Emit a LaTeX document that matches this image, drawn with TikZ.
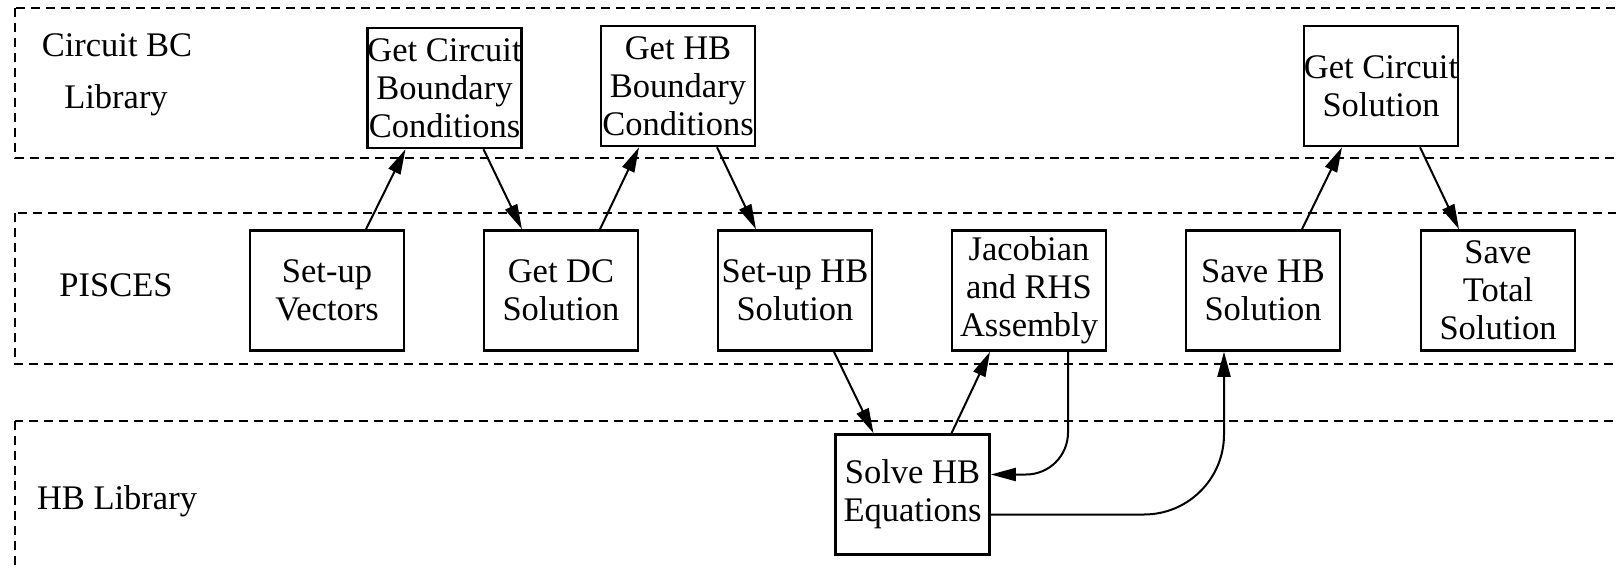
\documentclass[tikz,border=0pt]{standalone}
\usepackage{fontspec}
\setmainfont{Liberation Serif}
\usetikzlibrary{arrows.meta}
\begin{document}
\begin{tikzpicture}[x=1pt,y=-1pt,
  box/.style={draw, line width=2.5pt, minimum width=154pt, minimum height=120pt, inner sep=0pt, align=center, font=\fontsize{34.5}{38}\selectfont},
  lbl/.style={font=\fontsize{34.5}{38}\selectfont, inner sep=0pt, anchor=base},
  band/.style={draw, dash pattern=on 9pt off 6pt, line width=2pt},
  arr/.style={line width=2pt, -{Triangle[length=25pt,width=13pt]}}]
\useasboundingbox (0,0) rectangle (1616,570);
\begin{scope}
\clip (0,0) rectangle (1616,570);
\draw[band] (15,8) rectangle (1640,158);
\draw[band] (15,213) rectangle (1640,364);
\draw[band] (15,421) rectangle (1640,600);
\end{scope}
% band labels
\node[lbl] (l1) at (117,56) {Circuit BC};
\node[lbl] (l2) at (116,108) {Library};
\node[lbl] (l3) at (116,296) {PISCES};
\node[lbl] (l4) at (117,509) {HB Library};
% top row
\node[box] (gcbc) at (444.5,88) {Get Circuit\\Boundary\\Conditions};
\node[box] (ghb) at (678,86) {Get HB\\Boundary\\Conditions};
\node[box] (gcs) at (1381,86) {Get Circuit\\Solution};
% middle row
\node[box] (suv) at (327,290.5) {Set-up\\Vectors};
\node[box] (gdc) at (561,290.5) {Get DC\\Solution};
\node[box] (suhb) at (795,290.5) {Set-up HB\\Solution};
\node[box] (jac) at (1029,290.5) {Jacobian\\and RHS\\Assembly};
\node[box] (shb) at (1263,290.5) {Save HB\\Solution};
\node[box] (sts) at (1498,290.5) {Save\\Total\\Solution};
% bottom
\node[box] (shbe) at (912.5,494.5) {Solve HB\\Equations};
% connectors
\draw[arr] ([xshift=39pt]suv.north) -- ([xshift=-39pt]gcbc.south);
\draw[arr] ([xshift=39pt]gcbc.south) -- ([xshift=-39pt]gdc.north);
\draw[arr] ([xshift=39pt]gdc.north) -- ([xshift=-39pt]ghb.south);
\draw[arr] ([xshift=39pt]ghb.south) -- ([xshift=-39pt]suhb.north);
\draw[arr] ([xshift=39pt]suhb.south) -- ([xshift=-39pt]shbe.north);
\draw[arr] ([xshift=39pt]shbe.north) -- ([xshift=-39pt]jac.south);
\draw[arr, rounded corners=42pt] ([xshift=39pt]jac.south) |- ([yshift=20pt]shbe.east);
\draw[arr, rounded corners=80pt] ([yshift=-20pt]shbe.east) -| ([xshift=-39pt]shb.south);
\draw[arr] ([xshift=39pt]shb.north) -- ([xshift=-39pt]gcs.south);
\draw[arr] ([xshift=39pt]gcs.south) -- ([xshift=-39pt]sts.north);
\end{tikzpicture}
\end{document}
